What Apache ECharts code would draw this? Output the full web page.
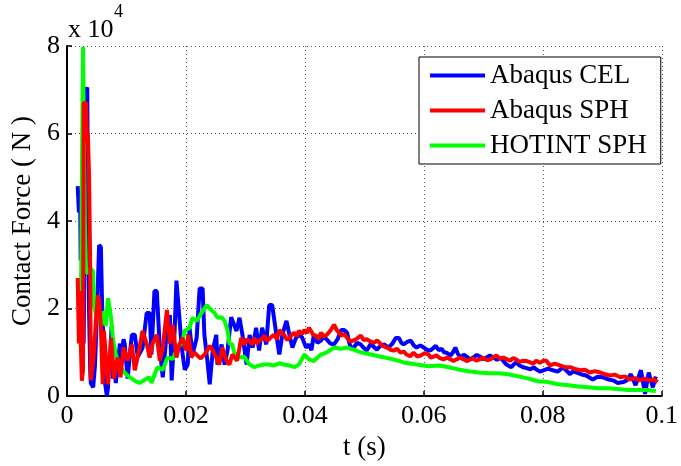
<!DOCTYPE html>
<html>
<head>
<meta charset="utf-8">
<script src="https://cdn.jsdelivr.net/npm/echarts@6/dist/echarts.min.js"></script>
<style>
  html, body { margin: 0; padding: 0; background: #fff; }
  #chart { width: 681px; height: 466px; }
</style>
</head>
<body>
<div id="chart"></div>
<script>
// force values in units of 1e4 N, time in s
var cel = [
  [0.0018, 4.8], [0.0020, 4.2], [0.0022, 4.7], [0.0023, 3.1], [0.0025, 3.5], [0.0027, 1.6],
  [0.0028, 1.2], [0.0032, 7.0], [0.0034, 7.05], [0.0035, 5.2], [0.0037, 2.0], [0.0039, 0.6],
  [0.0040, 0.3], [0.0044, 0.2], [0.0047, 0.7], [0.0049, 1.4], [0.0052, 2.6], [0.0054, 3.45],
  [0.0057, 3.4], [0.0059, 2.1], [0.0062, 1.0], [0.0064, 0.3], [0.0067, 0.0], [0.0069, 0.2],
  [0.0070, 0.9], [0.0072, 0.6], [0.0075, 1.6], [0.0077, 0.4], [0.0079, 0.8], [0.0082, 0.3],
  [0.0085, 0.7], [0.0089, 1.2], [0.0090, 0.6], [0.0095, 1.3], [0.0097, 1.2], [0.0102, 0.4],
  [0.0106, 1.0], [0.0109, 1.4], [0.0114, 1.4], [0.0119, 0.9], [0.0122, 0.88], [0.0127, 1.1],
  [0.0134, 1.9], [0.0139, 1.9], [0.0142, 0.95], [0.0147, 2.4], [0.0151, 2.4], [0.0156, 1.1],
  [0.0161, 0.43], [0.0168, 1.5], [0.0173, 1.85], [0.0176, 0.36], [0.0181, 1.5], [0.0184, 2.64],
  [0.0186, 2.6], [0.0193, 1.1], [0.0198, 0.6], [0.0203, 0.72], [0.0206, 1.56], [0.0211, 0.95],
  [0.0218, 1.33], [0.0223, 2.46], [0.0228, 2.46], [0.0231, 1.4], [0.0236, 0.81], [0.0240, 0.27],
  [0.0245, 1.04], [0.0251, 1.4], [0.0253, 0.72], [0.0260, 1.18], [0.0265, 0.72], [0.0270, 1.05],
  [0.0276, 1.8], [0.0278, 1.79], [0.0285, 1.49], [0.0290, 1.79], [0.0295, 1.4], [0.0302, 0.72],
  [0.0307, 1.4], [0.0312, 1.11], [0.0318, 1.56], [0.0323, 1.04], [0.0328, 1.56], [0.0335, 1.18],
  [0.0340, 2.08], [0.0345, 2.08], [0.0352, 1.4], [0.0357, 0.95], [0.0362, 1.4], [0.0369, 1.72],
  [0.0374, 1.4], [0.0379, 1.11], [0.0385, 1.33], [0.0390, 1.4], [0.0395, 1.35], [0.0402, 1.11],
  [0.0407, 1.18], [0.0411, 1.05], [0.0415, 1.4], [0.0421, 1.22], [0.0427, 1.27], [0.0432, 1.36],
  [0.0437, 1.29], [0.0443, 1.2], [0.0449, 1.18], [0.0455, 1.3], [0.0461, 1.51], [0.0466, 1.51],
  [0.0471, 1.45], [0.0474, 1.25], [0.0477, 1.11], [0.0482, 1.11], [0.0488, 1.22], [0.0494, 1.18],
  [0.0499, 1.1], [0.0504, 1.04], [0.0511, 1.2], [0.0516, 1.12], [0.0521, 1.06], [0.0527, 1.15],
  [0.0533, 1.18], [0.0541, 1.11], [0.0547, 1.2], [0.0553, 1.33], [0.0558, 1.33], [0.0562, 1.22],
  [0.0566, 1.18], [0.0572, 1.24], [0.0578, 1.27], [0.0583, 1.16], [0.0588, 1.11], [0.0594, 1.16],
  [0.0600, 1.11], [0.0605, 1.06], [0.0611, 1.04], [0.0616, 1.1], [0.0620, 1.15], [0.0625, 1.05],
  [0.0630, 1.08], [0.0634, 1.0], [0.0638, 0.99], [0.0645, 0.93], [0.0649, 1.0], [0.0653, 1.11],
  [0.0657, 0.97], [0.0662, 0.88], [0.0667, 0.95], [0.0672, 0.9], [0.0678, 0.84], [0.0683, 0.88],
  [0.0689, 0.94], [0.0695, 0.9], [0.0700, 0.84], [0.0705, 0.88], [0.0711, 0.93], [0.0717, 0.88],
  [0.0723, 0.83], [0.0729, 0.88], [0.0734, 0.8], [0.0739, 0.72], [0.0747, 0.66], [0.0751, 0.72],
  [0.0755, 0.77], [0.0761, 0.7], [0.0767, 0.66], [0.0773, 0.64], [0.0779, 0.61], [0.0785, 0.66],
  [0.0789, 0.61], [0.0795, 0.56], [0.0801, 0.59], [0.0809, 0.63], [0.0817, 0.59], [0.0825, 0.56],
  [0.0834, 0.66], [0.0840, 0.58], [0.0846, 0.5], [0.0851, 0.57], [0.0856, 0.54], [0.0864, 0.5],
  [0.0873, 0.47], [0.0879, 0.42], [0.0884, 0.38], [0.0892, 0.44], [0.0901, 0.43], [0.0910, 0.38],
  [0.0918, 0.36], [0.0926, 0.3], [0.0935, 0.32], [0.0941, 0.36], [0.0948, 0.5], [0.0956, 0.25],
  [0.0965, 0.59], [0.0972, 0.05], [0.0978, 0.54], [0.0985, 0.2], [0.0990, 0.45]
];

var sph = [
  [0.0018, 2.7], [0.0020, 1.2], [0.0022, 2.4], [0.0023, 1.3], [0.0025, 0.35], [0.0027, 0.6],
  [0.0028, 6.7], [0.0032, 6.7], [0.0034, 5.8], [0.0035, 6.0], [0.0037, 5.1], [0.0039, 3.0],
  [0.0040, 0.36], [0.0044, 0.8], [0.0045, 0.95], [0.0049, 1.8], [0.0052, 2.3], [0.0054, 2.2],
  [0.0057, 1.56], [0.0060, 0.27], [0.0062, 1.5], [0.0065, 1.5], [0.0069, 0.27], [0.0074, 1.33],
  [0.0079, 0.4], [0.0085, 0.88], [0.0090, 0.43], [0.0095, 1.11], [0.0097, 1.11], [0.0102, 0.81],
  [0.0109, 1.18], [0.0114, 0.59], [0.0122, 1.11], [0.0127, 1.49], [0.0134, 1.2], [0.0139, 0.88],
  [0.0144, 1.2], [0.0151, 1.4], [0.0156, 0.81], [0.0161, 1.1], [0.0168, 1.97], [0.0169, 1.97],
  [0.0173, 1.2], [0.0178, 1.63], [0.0184, 0.88], [0.0189, 1.18], [0.0194, 1.33], [0.0201, 1.04],
  [0.0204, 1.4], [0.0209, 0.88], [0.0214, 1.0], [0.0219, 0.93], [0.0225, 0.86], [0.0231, 0.95],
  [0.0236, 1.05], [0.0240, 1.15], [0.0245, 1.05], [0.0251, 0.88], [0.0256, 0.72], [0.0261, 1.11],
  [0.0268, 0.81], [0.0273, 0.72], [0.0278, 0.95], [0.0286, 0.81], [0.0293, 1.33], [0.0298, 1.18],
  [0.0302, 1.3], [0.0307, 1.25], [0.0311, 1.18], [0.0315, 1.33], [0.0319, 1.2], [0.0323, 1.25],
  [0.0328, 1.32], [0.0332, 1.38], [0.0336, 1.26], [0.0340, 1.3], [0.0344, 1.36], [0.0348, 1.4],
  [0.0353, 1.3], [0.0357, 1.51], [0.0361, 1.45], [0.0365, 1.4], [0.0370, 1.28], [0.0374, 1.33],
  [0.0378, 1.4], [0.0382, 1.45], [0.0386, 1.36], [0.0390, 1.49], [0.0395, 1.42], [0.0399, 1.51],
  [0.0403, 1.44], [0.0407, 1.56], [0.0410, 1.49], [0.0414, 1.4], [0.0419, 1.38], [0.0423, 1.3],
  [0.0427, 1.45], [0.0432, 1.36], [0.0437, 1.4], [0.0443, 1.5], [0.0449, 1.63], [0.0454, 1.5],
  [0.0458, 1.44], [0.0461, 1.38], [0.0466, 1.42], [0.0471, 1.33], [0.0476, 1.25], [0.0482, 1.27],
  [0.0488, 1.32], [0.0494, 1.38], [0.0499, 1.28], [0.0504, 1.3], [0.0510, 1.25], [0.0516, 1.22],
  [0.0522, 1.27], [0.0528, 1.18], [0.0533, 1.13], [0.0538, 1.11], [0.0544, 1.06], [0.0549, 1.04],
  [0.0555, 1.08], [0.0561, 0.99], [0.0566, 1.02], [0.0571, 0.95], [0.0577, 0.91], [0.0583, 0.99],
  [0.0589, 0.9], [0.0595, 0.93], [0.0601, 0.98], [0.0608, 0.95], [0.0611, 0.88], [0.0616, 0.9],
  [0.0621, 0.93], [0.0627, 0.87], [0.0633, 0.84], [0.0639, 0.88], [0.0645, 0.84], [0.0650, 0.8],
  [0.0655, 0.84], [0.0661, 0.88], [0.0667, 0.84], [0.0672, 0.8], [0.0678, 0.84], [0.0683, 0.86],
  [0.0688, 0.81], [0.0694, 0.84], [0.0700, 0.88], [0.0706, 0.82], [0.0712, 0.84], [0.0717, 0.89],
  [0.0722, 0.93], [0.0728, 0.86], [0.0734, 0.88], [0.0740, 0.84], [0.0745, 0.81], [0.0750, 0.87],
  [0.0755, 0.84], [0.0761, 0.78], [0.0767, 0.81], [0.0773, 0.8], [0.0779, 0.77], [0.0784, 0.74],
  [0.0789, 0.81], [0.0795, 0.76], [0.0801, 0.81], [0.0806, 0.81], [0.0812, 0.7], [0.0820, 0.74],
  [0.0829, 0.7], [0.0837, 0.66], [0.0846, 0.66], [0.0854, 0.62], [0.0863, 0.59], [0.0871, 0.6],
  [0.0879, 0.54], [0.0888, 0.57], [0.0896, 0.54], [0.0904, 0.5], [0.0913, 0.47], [0.0921, 0.49],
  [0.0930, 0.43], [0.0938, 0.45], [0.0946, 0.38], [0.0955, 0.41], [0.0963, 0.36], [0.0971, 0.4],
  [0.0980, 0.36], [0.0987, 0.38], [0.0993, 0.32]
];

var hotint = [
  [0.0023, 1.1], [0.0025, 5.0], [0.0027, 7.98], [0.0028, 6.5], [0.0030, 4.0], [0.0032, 2.85],
  [0.0035, 2.8], [0.0039, 2.92], [0.0044, 2.85], [0.0045, 2.08], [0.0049, 1.85], [0.0054, 1.79],
  [0.0057, 1.6], [0.0060, 1.94], [0.0065, 1.6], [0.0069, 2.24], [0.0074, 1.8], [0.0077, 1.33],
  [0.0082, 0.95], [0.0090, 0.66], [0.0099, 0.5], [0.0106, 0.43], [0.0114, 0.35], [0.0122, 0.3],
  [0.0134, 0.4], [0.0139, 0.43], [0.0142, 0.3], [0.0152, 0.66], [0.0161, 0.6], [0.0169, 0.88],
  [0.0178, 0.85], [0.0186, 1.11], [0.0193, 1.2], [0.0198, 1.49], [0.0206, 1.56], [0.0211, 1.79],
  [0.0218, 1.72], [0.0228, 1.94], [0.0235, 2.08], [0.0240, 2.0], [0.0248, 1.9], [0.0253, 1.79],
  [0.0260, 1.8], [0.0265, 1.72], [0.0270, 1.5], [0.0273, 1.2], [0.0278, 1.18], [0.0281, 1.0],
  [0.0290, 0.88], [0.0298, 0.9], [0.0307, 0.72], [0.0315, 0.66], [0.0323, 0.7], [0.0332, 0.72],
  [0.0340, 0.72], [0.0348, 0.7], [0.0357, 0.75], [0.0365, 0.72], [0.0374, 0.7], [0.0382, 0.66],
  [0.0390, 0.72], [0.0399, 0.95], [0.0407, 0.84], [0.0415, 0.8], [0.0427, 0.95], [0.0437, 1.0],
  [0.0449, 1.11], [0.0461, 1.08], [0.0471, 1.11], [0.0482, 1.06], [0.0494, 1.0], [0.0511, 0.95],
  [0.0528, 0.9], [0.0549, 0.84], [0.0566, 0.77], [0.0588, 0.72], [0.0608, 0.68], [0.0625, 0.7],
  [0.0642, 0.66], [0.0658, 0.61], [0.0675, 0.57], [0.0692, 0.54], [0.0709, 0.52], [0.0725, 0.52],
  [0.0742, 0.5], [0.0759, 0.45], [0.0776, 0.4], [0.0792, 0.34], [0.0809, 0.32], [0.0826, 0.27],
  [0.0843, 0.25], [0.0859, 0.22], [0.0876, 0.2], [0.0893, 0.18], [0.0910, 0.18], [0.0926, 0.16],
  [0.0943, 0.14], [0.0960, 0.14], [0.0977, 0.14], [0.0990, 0.11]
];

var names = ['Abaqus CEL', 'Abaqus SPH', 'HOTINT SPH'];
var colors = ['#0000ff', '#ff0000', '#00ff00'];

var font = '"Liberation Serif", "Times New Roman", serif';

function lineSeries(name, data, color, z) {
  return {
    name: name,
    type: 'line',
    data: data,
    z: z,
    showSymbol: false,
    symbol: 'none',
    lineStyle: { color: color, width: 4 },
    itemStyle: { color: color }
  };
}

var chart = echarts.init(document.getElementById('chart'));
chart.setOption({
  animation: false,
  backgroundColor: '#fff',
  textStyle: { fontFamily: font },
  grid: { left: 67, right: 17, top: 46, bottom: 67, containLabel: false },
  xAxis: {
    type: 'value',
    min: 0,
    max: 0.1,
    interval: 0.02,
    name: 't (s)',
    nameLocation: 'middle',
    nameGap: 25,
    nameTextStyle: { color: '#000', fontSize: 27, fontFamily: font },
    axisLine: { show: true, onZero: false, lineStyle: { color: '#000', width: 2 } },
    axisTick: { show: true, inside: true, length: 5, lineStyle: { color: '#000', width: 1.5 } },
    axisLabel: {
      color: '#000', fontSize: 26, fontFamily: font, margin: 7,
      formatter: function (v) { return v === 0 ? '0' : String(+v.toFixed(2)); }
    },
    splitLine: { show: true, lineStyle: { color: '#555', width: 1, type: [1, 3] } }
  },
  yAxis: {
    type: 'value',
    min: 0,
    max: 8,
    interval: 2,
    name: 'Contact Force ( N )',
    nameLocation: 'middle',
    nameGap: 24,
    nameTextStyle: { color: '#000', fontSize: 27, fontFamily: font },
    axisLine: { show: true, onZero: false, lineStyle: { color: '#000', width: 2 } },
    axisTick: { show: true, inside: true, length: 5, lineStyle: { color: '#000', width: 1.5 } },
    axisLabel: { color: '#000', fontSize: 26, fontFamily: font, margin: 7 },
    splitLine: { show: true, lineStyle: { color: '#555', width: 1, type: [1, 3] } }
  },
  legend: {
    data: names,
    orient: 'vertical',
    left: 419,
    top: 57,
    icon: 'rect',
    itemWidth: 55,
    itemHeight: 4,
    itemGap: 8,
    padding: [5, 14, 5, 11],
    backgroundColor: '#fff',
    borderColor: '#000',
    borderWidth: 1,
    borderRadius: 0,
    textStyle: { color: '#000', fontSize: 27, fontFamily: font }
  },
  graphic: [
    {
      type: 'text', left: 68, top: 17, z: 10,
      style: { text: 'x 10', fill: '#000', font: '26px ' + font }
    },
    {
      type: 'text', left: 114, top: 3, z: 10,
      style: { text: '4', fill: '#000', font: '18px ' + font }
    }
  ],
  series: [
    lineSeries(names[0], cel, colors[0], 2),
    lineSeries(names[2], hotint, colors[2], 3),
    lineSeries(names[1], sph, colors[1], 4)
  ]
});
</script>
</body>
</html>
